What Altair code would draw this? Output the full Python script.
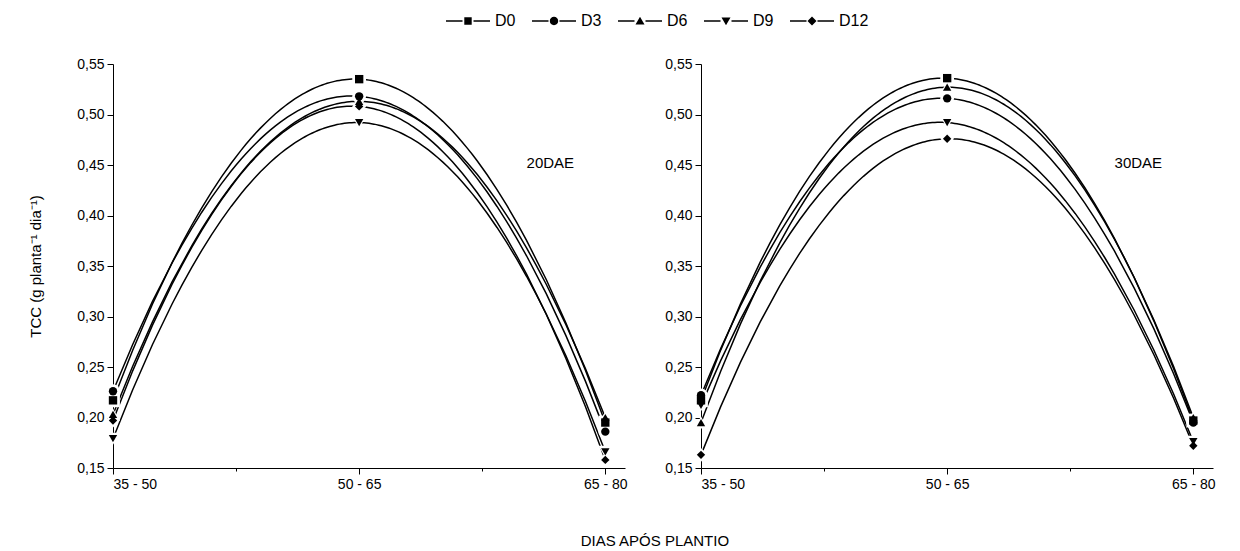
import altair as alt
import pandas as pd

# ---- data ----
periods = ["35 - 50", "50 - 65", "65 - 80"]
series = ["D0", "D3", "D6", "D9", "D12"]

# 20 DAE panel
tcc20_D0 = [0.217, 0.535, 0.195]
tcc20_D3 = [0.226, 0.518, 0.186]
tcc20_D6 = [0.203, 0.513, 0.200]
tcc20_D9 = [0.179, 0.492, 0.166]
tcc20_D12 = [0.197, 0.508, 0.158]

# 30 DAE panel
tcc30_D0 = [0.217, 0.536, 0.197]
tcc30_D3 = [0.222, 0.516, 0.195]
tcc30_D6 = [0.195, 0.527, 0.200]
tcc30_D9 = [0.212, 0.492, 0.176]
tcc30_D12 = [0.163, 0.476, 0.172]

panel_labels = ["20DAE", "30DAE"]
y_ticks = [0.15, 0.175, 0.20, 0.225, 0.25, 0.275, 0.30, 0.325, 0.35, 0.375,
           0.40, 0.425, 0.45, 0.475, 0.50, 0.525, 0.55]

marker_shapes = ["square", "circle", "triangle-up", "triangle-down", "diamond"]
# legend glyphs "—marker—" (unit = half of a 20 px box)
LINES = "M-2.2,-0.065H-0.55V0.065H-2.2ZM0.55,-0.065H2.2V0.065H0.55Z"
legend_paths = [
    LINES + "M-0.37,-0.37H0.37V0.37H-0.37Z",
    LINES + "M-0.42,0A0.42,0.42 0 1,0 0.42,0A0.42,0.42 0 1,0 -0.42,0Z",
    LINES + "M0,-0.42L0.45,0.34L-0.45,0.34Z",
    LINES + "M0,0.42L0.45,-0.34L-0.45,-0.34Z",
    LINES + "M0,-0.45L0.45,0L0,0.45L-0.45,0Z",
]


def make_df(vals):
    rows = []
    for s, v in zip(series, vals):
        for i, (p, y) in enumerate(zip(periods, v)):
            rows.append({"x": i, "periodo": p, "serie": s, "tcc": y})
    return pd.DataFrame(rows)


df20 = make_df([tcc20_D0, tcc20_D3, tcc20_D6, tcc20_D9, tcc20_D12])
df30 = make_df([tcc30_D0, tcc30_D3, tcc30_D6, tcc30_D9, tcc30_D12])

FONT = "Liberation Sans"
W, H = 512, 404

x_label_expr = ("datum.value % 1 == 0 ? " + str(periods).replace('"', "'")
                + "[datum.value] : ''")
major_y = "abs(round(datum.value*20) - datum.value*20) < 0.000001"
y_label_expr = major_y + " ? replace(format(datum.value, '.2f'), '.', ',') : ''"


def panel(df, label, show_title, with_legend):
    xs = alt.X("x:Q",
               scale=alt.Scale(domain=[0, 2.08], nice=False, zero=False),
               axis=alt.Axis(values=[0, 0.5, 1, 1.5, 2], labelExpr=x_label_expr,
                             title=None, grid=False,
                             tickSize={"condition": {"test": "datum.value % 1 == 0", "value": 6}, "value": 3},
                             labelFontSize=14, labelPadding=3))
    ys = alt.Y("tcc:Q",
               scale=alt.Scale(domain=[0.15, 0.55], nice=False, zero=False),
               axis=alt.Axis(values=y_ticks, labelExpr=y_label_expr,
                             title="TCC (g planta⁻¹ dia⁻¹)" if show_title else None,
                             titleFontSize=15, titleFontWeight="normal",
                             titlePadding=33, grid=False,
                             tickSize={"condition": {"test": major_y, "value": 6}, "value": 3},
                             labelFontSize=14, labelPadding=3))
    base = alt.Chart(df)
    curves = base.transform_regression(
        "x", "tcc", method="poly", order=2, groupby=["serie"], extent=[0, 2]
    ).mark_line(color="black", strokeWidth=1.5).encode(
        x=xs, y=ys, detail="serie:N")
    halo = base.mark_point(filled=True, color="white", opacity=1, size=190).encode(
        x="x:Q", y="tcc:Q",
        shape=alt.Shape("serie:N", scale=alt.Scale(domain=series, range=marker_shapes), legend=None))
    pts = base.mark_point(filled=True, color="black", opacity=1, size=70).encode(
        x="x:Q", y="tcc:Q",
        shape=alt.Shape("serie:N", scale=alt.Scale(domain=series, range=marker_shapes), legend=None))
    txt = alt.Chart(pd.DataFrame({"lab": [label]})).mark_text(
        font=FONT, fontSize=15, align="left", baseline="middle", color="black"
    ).encode(x=alt.datum(1.68), y=alt.datum(0.452), text="lab:N")
    layers = [curves, halo, pts, txt]
    if with_legend:
        leg = base.mark_point(filled=True, color="black", opacity=0).encode(
            x="x:Q", y="tcc:Q",
            shape=alt.Shape("serie_l:N",
                            scale=alt.Scale(domain=series, range=legend_paths),
                            legend=alt.Legend(title=None, orient="none", direction="horizontal",
                                              legendX=345, legendY=-53, symbolSize=400,
                                              symbolFillColor="black", symbolOpacity=1,
                                              symbolStrokeWidth=0,
                                              labelFontSize=16, labelFont=FONT, labelOffset=17,
                                              columnPadding=16, columns=5))
        ).transform_calculate(serie_l="datum.serie")
        layers.append(leg)
    return alt.layer(*layers).resolve_scale(shape="independent").properties(width=W, height=H)


left = panel(df20, panel_labels[0], True, True)
right = panel(df30, panel_labels[1], False, False)

chart = alt.hconcat(left, right, spacing=76, bounds="flush").properties(
    title=alt.TitleParams("DIAS APÓS PLANTIO", orient="bottom", anchor="middle",
                          fontSize=15, fontWeight="normal", font=FONT, offset=43, dx=33,
                          color="black"),
    padding={"left": 20, "top": 3, "right": 5, "bottom": 0},
).configure_view(stroke=None).configure_axis(
    labelFont=FONT, titleFont=FONT, labelColor="black", titleColor="black",
    domainColor="black", tickColor="black", domainWidth=1, tickWidth=1
).configure_legend(labelColor="black")

chart.save("out.html", embed_options={"renderer": "svg", "actions": False})
